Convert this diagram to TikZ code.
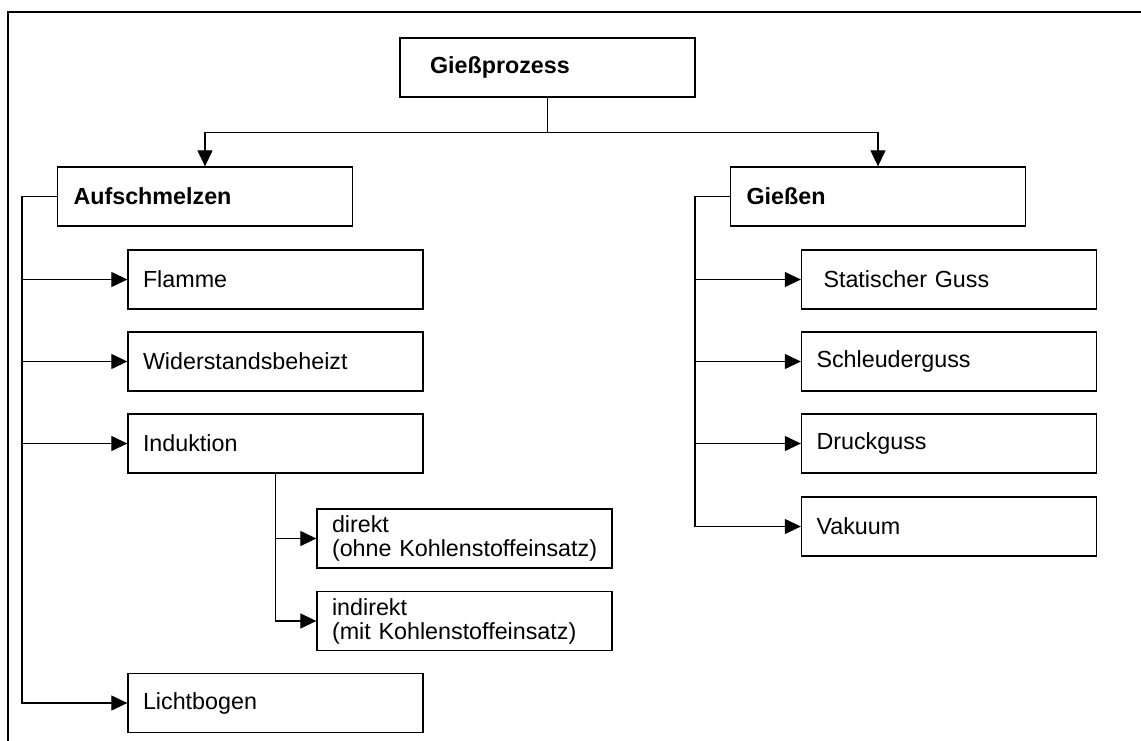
\documentclass[tikz,border=0pt]{standalone}
\usepackage{fontspec}
\setmainfont{Liberation Sans}
\usepackage{tikz}
\usetikzlibrary{arrows.meta}
\tikzstyle{arrow} = [line width=0.6pt,-{Triangle[length=8pt,width=7.5pt]}]
\tikzstyle{box} = [draw, rectangle, line width=0.65pt, minimum width=147.5pt, minimum height=29.5pt, inner xsep=7.5pt, text width=132.5pt, align=left]

\begin{document}
\begin{tikzpicture}[x=0.5pt, y=-0.5pt, every node/.style={font=\fontsize{11.65}{12}\selectfont}]
        \useasboundingbox (0,0) rectangle (1141,740);
        % Frame
        \draw[line width=0.9pt] (8,745) -- (8,12) -- (1146,12);

        % Node positions
        \node[box, inner xsep=15pt, text width=117.5pt, font=\fontsize{11.65}{12}\selectfont\bfseries] (giessprozess) at (547.5,67.5) {Gießprozess};
        \node[box, inner xsep=8pt, text width=131.5pt, font=\fontsize{11.65}{12}\selectfont\bfseries] (aufschmelzen) at (205,196.5) {Aufschmelzen};
        \node[box, inner xsep=8pt, text width=131.5pt, font=\fontsize{11.65}{12}\selectfont\bfseries] (giessen) at (878,196.5) {Gießen};

        \node[box] (flamme) at (275.5,279.5) {Flamme};
        \node[box] (widerstand) at (275.5,361.5) {Widerstandsbeheizt};
        \node[box] (induktion) at (275.5,443.5) {Induktion};
        \node[box] (direkt) at (464.5,538.5) {direkt\\\mbox{(ohne Kohlenstoffeinsatz)}};
        \node[box] (indirekt) at (464.5,621) {indirekt\\\mbox{(mit Kohlenstoffeinsatz)}};
        \node[box] (lichtbogen) at (275.5,703) {Lichtbogen};

        \node[box, inner xsep=11pt, text width=125.5pt] (statisch) at (949,279.5) {Statischer Guss};
        \node[box] (schleuder) at (949,361.5) {Schleuderguss};
        \node[box] (druck) at (949,443.5) {Druckguss};
        \node[box] (vakuum) at (949,526.5) {Vakuum};

        \coordinate (ltrunk) at (22,196.5);
        \coordinate (rtrunk) at (695,196.5);

        % Connectors
        \draw[arrow] (giessprozess.south) -- ++(0,35) -| (aufschmelzen.north);
        \draw[arrow] (giessprozess.south) -- ++(0,35) -| (giessen.north);

        \draw[arrow] (aufschmelzen.west) -- (ltrunk) |- (flamme.west);
        \draw[arrow] (aufschmelzen.west) -- (ltrunk) |- (widerstand.west);
        \draw[arrow] (aufschmelzen.west) -- (ltrunk) |- (induktion.west);
        \draw[arrow] (aufschmelzen.west) -- (ltrunk) |- (lichtbogen.west);

        \draw[arrow] (induktion.south) |- (direkt.west);
        \draw[arrow] (induktion.south) |- (indirekt.west);

        \draw[arrow] (giessen.west) -- (rtrunk) |- (statisch.west);
        \draw[arrow] (giessen.west) -- (rtrunk) |- (schleuder.west);
        \draw[arrow] (giessen.west) -- (rtrunk) |- (druck.west);
        \draw[arrow] (giessen.west) -- (rtrunk) |- (vakuum.west);
      \end{tikzpicture}
\end{document}
